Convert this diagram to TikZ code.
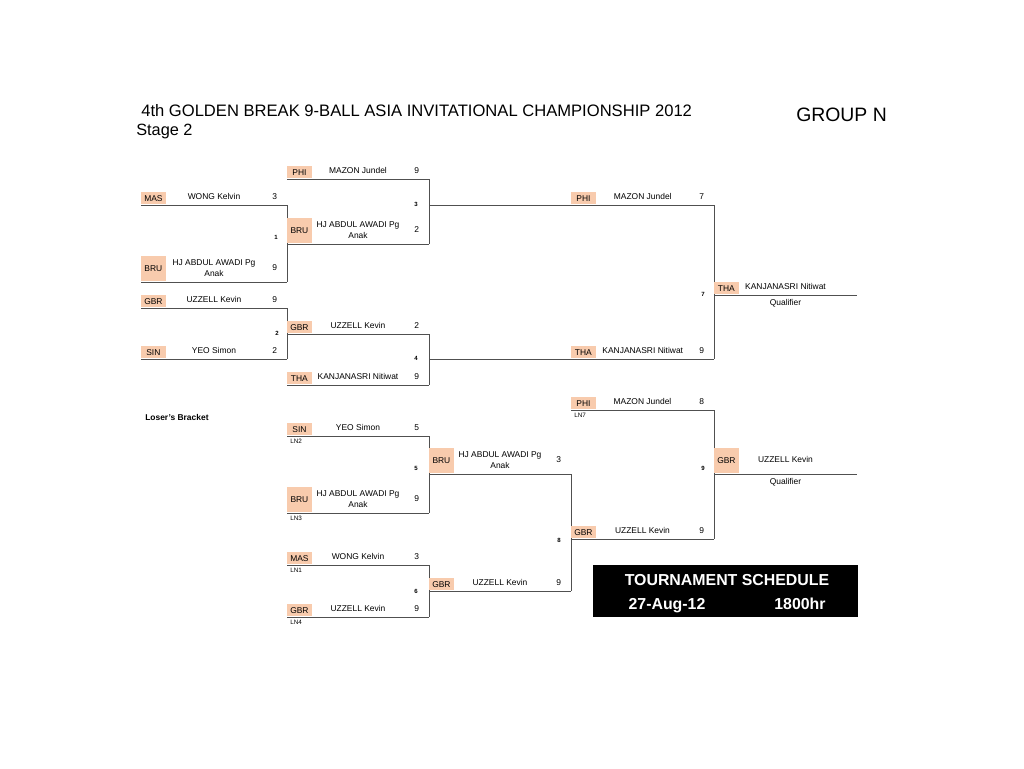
\documentclass[tikz,border=0pt]{standalone}
\usepackage{fontspec}
\setmainfont{Liberation Sans}
\definecolor{codebg}{RGB}{248,203,173}
\definecolor{bracketline}{RGB}{80,80,80}
\begin{document}
\begin{tikzpicture}[x=.25mm,y=-.25mm]
  \tikzstyle{every node}=[font=\fontsize{6}{7.8}\selectfont]
  \tikzstyle{bline}=[draw=bracketline,line width=.7pt]
  \tikzstyle{cbox}=[fill=codebg,anchor=south west,minimum width=6.2mm,minimum height=3.1mm,inner sep=0pt,outer sep=0pt,yshift=.4pt]
  \tikzstyle{cboxtall}=[cbox,minimum height=6.4mm]
  \tikzstyle{pname}=[above=2.5pt,inner sep=1pt,align=center]
  \tikzstyle{pscore}=[above=2.5pt,inner sep=1pt,xshift=-3.1mm]
  \tikzstyle{pscoretall}=[pscore,yshift=4pt]
  \tikzstyle{qual}=[below=1.5pt,inner sep=1pt]
  \tikzstyle{mnum}=[font=\bfseries\fontsize{4.3}{4.3}\selectfont,inner sep=0pt]
  \tikzstyle{lnlab}=[font=\fontsize{4.5}{5}\selectfont,anchor=north west,inner sep=0pt]
  \useasboundingbox (0,0) rectangle (1024,768);
  % headings
  \node[anchor=base west,inner sep=0,font=\fontsize{11.8}{14}\selectfont] (title) at (141,116) {4th GOLDEN BREAK 9-BALL ASIA INVITATIONAL CHAMPIONSHIP 2012};
  \node[anchor=base west,inner sep=0,font=\fontsize{11.6}{14}\selectfont] (stage) at (136,135) {Stage 2};
  \node[anchor=base west,inner sep=0,font=\fontsize{13.8}{16}\selectfont] (group) at (796,121) {GROUP N};
  % winners, round 1
  \draw[bline] (141,205) coordinate (a1) node[cbox] (c1) {MAS} -- node[pname] (n1) {WONG Kelvin} (287,205) coordinate (b1) node[pscore] (s1) {3};
  \draw[bline] (141,282) coordinate (a2) node[cboxtall] (c2) {BRU} -- node[pname] (n2) {HJ ABDUL AWADI Pg\\Anak} (287,282) coordinate (b2) node[pscoretall] (s2) {9};
  \draw[bline] (141,308) coordinate (a3) node[cbox] (c3) {GBR} -- node[pname] (n3) {UZZELL Kevin} (287,308) coordinate (b3) node[pscore] (s3) {9};
  \draw[bline] (141,359) coordinate (a4) node[cbox] (c4) {SIN} -- node[pname] (n4) {YEO Simon} (287,359) coordinate (b4) node[pscore] (s4) {2};
  \draw[bline] (b1) -- (b2);
  \draw[bline] (b3) -- (b4);
  % winners, round 2
  \draw[bline] (287,179) coordinate (a5) node[cbox] (c5) {PHI} -- node[pname] (n5) {MAZON Jundel} (429,179) coordinate (b5) node[pscore] (s5) {9};
  \draw[bline] (287,244) coordinate (a6) node[cboxtall] (c6) {BRU} -- node[pname] (n6) {HJ ABDUL AWADI Pg\\Anak} (429,244) coordinate (b6) node[pscoretall] (s6) {2};
  \draw[bline] (287,334) coordinate (a7) node[cbox] (c7) {GBR} -- node[pname] (n7) {UZZELL Kevin} (429,334) coordinate (b7) node[pscore] (s7) {2};
  \draw[bline] (287,385) coordinate (a8) node[cbox] (c8) {THA} -- node[pname] (n8) {KANJANASRI Nitiwat} (429,385) coordinate (b8) node[pscore] (s8) {9};
  \draw[bline] (b5) -- (b6);
  \draw[bline] (b7) -- (b8);
  % winners, round 3 and final
  \draw[bline] (429,205) coordinate (a9) -- node[pname,pos=.75] (n9) {MAZON Jundel} (714,205) coordinate (b9) node[pscore] (s9) {7};
  \node[cbox] (c9) at (571,205) {PHI};
  \draw[bline] (429,359) coordinate (a10) -- node[pname,pos=.75] (n10) {KANJANASRI Nitiwat} (714,359) coordinate (b10) node[pscore] (s10) {9};
  \node[cbox] (c10) at (571,359) {THA};
  \draw[bline] (b9) -- (b10);
  \draw[bline] (714,295) coordinate (a11) node[cbox] (c11) {THA} -- node[pname] (n11) {KANJANASRI Nitiwat} node[qual] (q11) {Qualifier} (857,295) coordinate (b11);
  % match numbers
  \node[mnum] (m1) at (276,237) {1};
  \node[mnum] (m2) at (277,333) {2};
  \node[mnum] (m3) at (416,204) {3};
  \node[mnum] (m4) at (416,358) {4};
  \node[mnum] (m7) at (703,294) {7};
  % loser's bracket
  \node[anchor=base west,inner sep=0,font=\bfseries\fontsize{6}{7}\selectfont] (lbhead) at (145,420) {Loser's Bracket};
  \draw[bline] (287,436) coordinate (la1) node[cbox] (lc1) {SIN} -- node[pname] (ln1) {YEO Simon} (429,436) coordinate (lb1) node[pscore] (ls1) {5};
  \draw[bline] (287,513) coordinate (la2) node[cboxtall] (lc2) {BRU} -- node[pname] (ln2) {HJ ABDUL AWADI Pg\\Anak} (429,513) coordinate (lb2) node[pscoretall] (ls2) {9};
  \draw[bline] (287,565) coordinate (la3) node[cbox] (lc3) {MAS} -- node[pname] (ln3) {WONG Kelvin} (429,565) coordinate (lb3) node[pscore] (ls3) {3};
  \draw[bline] (287,617) coordinate (la4) node[cbox] (lc4) {GBR} -- node[pname] (ln4) {UZZELL Kevin} (429,617) coordinate (lb4) node[pscore] (ls4) {9};
  \draw[bline] (lb1) -- (lb2);
  \draw[bline] (lb3) -- (lb4);
  \node[lnlab] (ln2tag) at (290,439) {LN2};
  \node[lnlab] (ln3tag) at (290,516) {LN3};
  \node[lnlab] (ln1tag) at (290,568) {LN1};
  \node[lnlab] (ln4tag) at (290,620) {LN4};
  \draw[bline] (429,474) coordinate (la5) node[cboxtall] (lc5) {BRU} -- node[pname] (ln5) {HJ ABDUL AWADI Pg\\Anak} (571,474) coordinate (lb5) node[pscoretall] (ls5) {3};
  \draw[bline] (429,591) coordinate (la6) node[cbox] (lc6) {GBR} -- node[pname] (ln6) {UZZELL Kevin} (571,591) coordinate (lb6) node[pscore] (ls6) {9};
  \draw[bline] (lb5) -- (lb6);
  \draw[bline] (571,410) coordinate (la7) node[cbox] (lc7) {PHI} -- node[pname] (ln7) {MAZON Jundel} (714,410) coordinate (lb7) node[pscore] (ls7) {8};
  \node[lnlab] (ln7tag) at (574,413) {LN7};
  \draw[bline] (571,539) coordinate (la8) node[cbox] (lc8) {GBR} -- node[pname] (ln8) {UZZELL Kevin} (714,539) coordinate (lb8) node[pscore] (ls8) {9};
  \draw[bline] (lb7) -- (lb8);
  \draw[bline] (714,474) coordinate (la9) node[cboxtall] (lc9) {GBR} -- node[pname,yshift=4pt] (ln9) {UZZELL Kevin} node[qual] (lq9) {Qualifier} (857,474) coordinate (lb9);
  \node[mnum] (m5) at (416,468) {5};
  \node[mnum] (m6) at (416,591) {6};
  \node[mnum] (m8) at (559,540) {8};
  \node[mnum] (m9) at (703,468) {9};
  % schedule
  \node[fill=black,minimum width=66.25mm,minimum height=13mm,inner sep=0] (sched) at (725.5,591) {};
  \node[anchor=base,text=white,font=\bfseries\fontsize{11.3}{13}\selectfont] (schedhead) at (727,585) {TOURNAMENT SCHEDULE};
  \node[anchor=base,text=white,font=\bfseries\fontsize{11.3}{13}\selectfont] (scheddate) at (667,609) {27-Aug-12};
  \node[anchor=base,text=white,font=\bfseries\fontsize{11.3}{13}\selectfont] (schedtime) at (800,609) {1800hr};
\end{tikzpicture}
\end{document}
